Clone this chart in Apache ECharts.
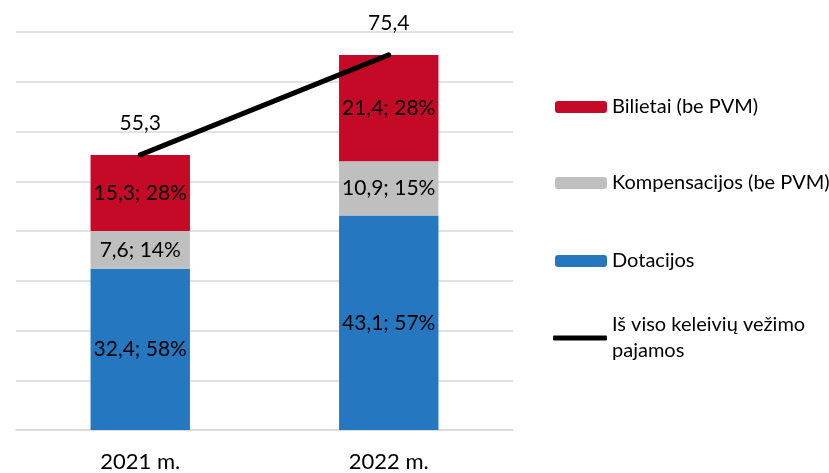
<!DOCTYPE html>
<html>
<head>
<meta charset="utf-8">
<script src="https://cdn.jsdelivr.net/npm/echarts@6/dist/echarts.min.js"></script>
<style>
  html, body { margin: 0; padding: 0; background: #fff; }
  #chart { width: 829px; height: 473px; }
</style>
</head>
<body>
<div id="chart"></div>
<script>
// duomenys
var years = ['2021 m.', '2022 m.'];
var dotacijos = [32.4, 43.1];
var dotacijosPct = [58, 57];
var kompensacijos = [7.6, 10.9];
var kompensacijosPct = [14, 15];
var bilietai = [15.3, 21.4];
var bilietaiPct = [28, 28];
var isViso = [55.3, 75.4];

var FONT = 'Lato';

function fmt(v) {
  return String(v).replace('.', ',');
}
function pctLabel(pcts) {
  return function (p) {
    return fmt(p.value) + '; ' + pcts[p.dataIndex] + '%';
  };
}

var chart = echarts.init(document.getElementById('chart'));

var barLabel = {
  show: true,
  position: 'inside',
  color: '#000',
  fontFamily: FONT,
  fontSize: 21
};
var legendText = { fontSize: 20, color: '#000', fontFamily: FONT };

chart.setOption({
  animation: false,
  textStyle: { fontFamily: FONT },
  grid: {
    left: 16,
    right: 316,
    top: 32,
    bottom: 41
  },
  legend: [
    {
      data: ['Bilietai (be PVM)'],
      left: 550, top: 92,
      itemWidth: 52, itemHeight: 12, itemGap: 6,
      textStyle: legendText
    },
    {
      data: ['Kompensacijos (be PVM)'],
      left: 550, top: 168,
      itemWidth: 52, itemHeight: 12, itemGap: 6,
      textStyle: legendText
    },
    {
      data: ['Dotacijos'],
      left: 550, top: 246,
      itemWidth: 52, itemHeight: 12, itemGap: 6,
      textStyle: legendText
    },
    {
      data: [{ name: 'Iš viso keleivių vežimo pajamos', icon: 'roundRect' }],
      left: 548, top: 294,
      itemWidth: 54, itemHeight: 5, itemGap: 6,
      formatter: function () { return 'Iš viso keleivių vežimo\npajamos'; },
      textStyle: { fontSize: 20, color: '#000', fontFamily: FONT, lineHeight: 26, padding: [26, 0, 0, 0] }
    }
  ],
  xAxis: {
    type: 'category',
    data: years,
    axisLine: { show: true, lineStyle: { color: '#d9d9d9', width: 1.5 } },
    axisTick: { show: false },
    axisLabel: { color: '#000', fontSize: 22, fontFamily: FONT, margin: 21 }
  },
  yAxis: {
    type: 'value',
    min: 0,
    max: 80,
    interval: 10,
    axisLine: { show: false },
    axisTick: { show: false },
    axisLabel: { show: false },
    splitLine: { lineStyle: { color: '#d9d9d9', width: 1.5 } }
  },
  series: [
    {
      name: 'Dotacijos',
      type: 'bar',
      stack: 'pajamos',
      barWidth: '40%',
      itemStyle: { color: '#2577C0' },
      label: Object.assign({ formatter: pctLabel(dotacijosPct) }, barLabel),
      data: dotacijos
    },
    {
      name: 'Kompensacijos (be PVM)',
      type: 'bar',
      stack: 'pajamos',
      itemStyle: { color: '#BFBFBF' },
      label: Object.assign({ formatter: pctLabel(kompensacijosPct) }, barLabel),
      data: kompensacijos
    },
    {
      name: 'Bilietai (be PVM)',
      type: 'bar',
      stack: 'pajamos',
      itemStyle: { color: '#C50A27' },
      label: Object.assign({ formatter: pctLabel(bilietaiPct) }, barLabel),
      data: bilietai
    },
    {
      name: 'Iš viso keleivių vežimo pajamos',
      type: 'line',
      symbol: 'circle',
      symbolSize: 1,
      showSymbol: true,
      itemStyle: { color: '#000' },
      lineStyle: { color: '#000', width: 5, cap: 'round' },
      label: {
        show: true,
        position: 'top',
        distance: 21,
        color: '#000',
        fontFamily: FONT,
        fontSize: 21,
        formatter: function (p) { return fmt(p.value); }
      },
      data: isViso
    }
  ]
});
</script>
</body>
</html>
